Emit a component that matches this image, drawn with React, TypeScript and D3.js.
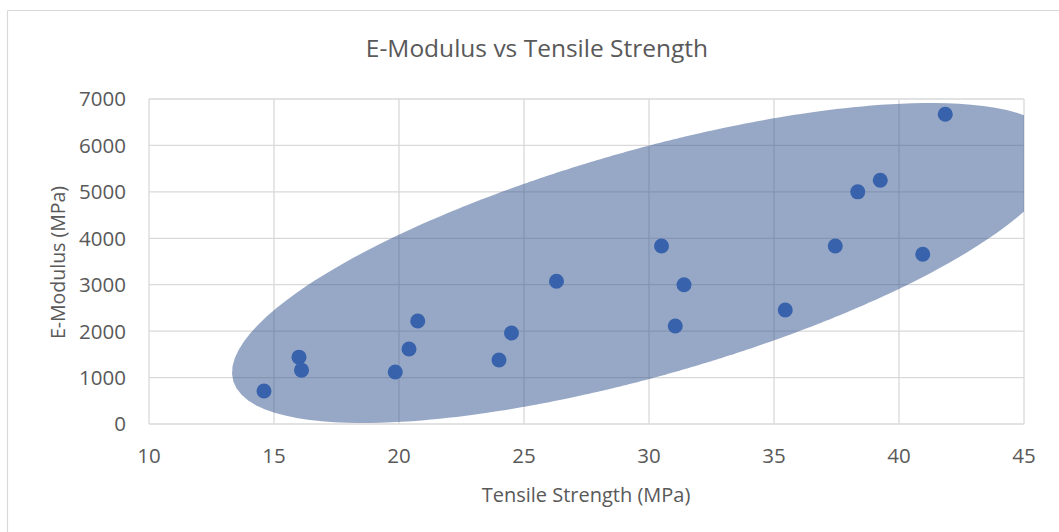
import React from "react";
import * as d3 from "d3";

// Data
const tensileStrength = [14.6, 16.0, 16.1, 19.85, 20.4, 20.75, 24.0, 24.5, 26.3, 30.5, 31.05, 31.4, 35.45, 37.45, 38.35, 39.25, 40.95, 41.85];
const eModulus = [710, 1440, 1160, 1120, 1615, 2220, 1380, 1960, 3075, 3835, 2110, 3000, 2455, 3835, 5000, 5250, 3655, 6670];
const xTicks = [10, 15, 20, 25, 30, 35, 40, 45];
const yTicks = [0, 1000, 2000, 3000, 4000, 5000, 6000, 7000];
// Ellipse annotation (data units): centre, right-most x extent point, top point
const ellipseCenter = [29.9, 3468];
const ellipseRight = [46.48, 5815];
const ellipseTop = [41.24, 6914];

const W = 1059;
const H = 532;
const M = { left: 149, right: 1024, top: 99, bottom: 424 };
const FONT = "'Open Sans', Lato, sans-serif";
const TXT = "#595959";
const GRID = "#d9d9d9";

export default function App() {
  const x = d3.scaleLinear().domain([10, 45]).range([M.left, M.right]);
  const y = d3.scaleLinear().domain([0, 7000]).range([M.bottom, M.top]);

  // Ellipse in pixel space from quadratic form
  const cx = x(ellipseCenter[0]);
  const cy = y(ellipseCenter[1]);
  const dxr = x(ellipseRight[0]) - cx;
  const dxt = x(ellipseTop[0]) - cx;
  const dyt = y(ellipseTop[1]) - cy;
  const D = 1 / (dyt * dyt * (dxr * dxr - dxt * dxt));
  const A = dyt * dyt * D;
  const C = dxr * dxr * D;
  const B = -dxt * dyt * D;
  const angles = d3.range(0, 360, 1).map((a) => (a * Math.PI) / 180);
  const pts: [number, number][] = angles.map((t) => {
    const c = Math.cos(t);
    const s = Math.sin(t);
    const r = 1 / Math.sqrt(A * c * c + 2 * B * c * s + C * s * s);
    return [cx + r * c, cy + r * s];
  });
  const ellipsePath = d3.line().curve(d3.curveLinearClosed)(pts) || "";

  return (
    <svg
      width={W}
      height={H}
      style={{ position: "absolute", left: 0, top: 0, background: "#fff" }}
    >
      <defs>
        <clipPath id="plotClip">
          <rect x={M.left} y={M.top - 20} width={M.right - M.left} height={M.bottom - M.top + 20} />
        </clipPath>
      </defs>
      {/* outer chart border */}
      <line x1={7.5} y1={10.5} x2={W} y2={10.5} stroke={GRID} strokeWidth={1.2} />
      <line x1={7.5} y1={10.5} x2={7.5} y2={H} stroke={GRID} strokeWidth={1.2} />

      {/* title */}
      <text x={537} y={57} textAnchor="middle" fontFamily={FONT} fontSize={24.5} fill={TXT}>
        E-Modulus vs Tensile Strength
      </text>

      {/* gridlines */}
      {yTicks.map((t) => (
        <line key={"gy" + t} x1={M.left} x2={M.right} y1={y(t)} y2={y(t)} stroke={GRID} strokeWidth={1.3} />
      ))}
      {xTicks.map((t) => (
        <line key={"gx" + t} x1={x(t)} x2={x(t)} y1={M.top} y2={M.bottom} stroke={GRID} strokeWidth={1.3} />
      ))}

      {/* ellipse */}
      <path d={ellipsePath} fill="rgb(47,81,141)" fillOpacity={0.5} clipPath="url(#plotClip)" />

      {/* points */}
      {tensileStrength.map((v, i) => (
        <circle key={i} cx={x(v)} cy={y(eModulus[i])} r={7.5} fill="#3862ab" />
      ))}

      {/* y tick labels */}
      {yTicks.map((t) => (
        <text key={"ly" + t} x={126} y={y(t)} dy="0.36em" textAnchor="end" fontFamily={FONT} fontSize={20.5} fill={TXT}>
          {t}
        </text>
      ))}
      {/* x tick labels */}
      {xTicks.map((t) => (
        <text key={"lx" + t} x={x(t)} y={463} textAnchor="middle" fontFamily={FONT} fontSize={20.5} fill={TXT}>
          {t}
        </text>
      ))}

      {/* axis titles */}
      <text x={586} y={502} textAnchor="middle" fontFamily={FONT} fontSize={20} fill={TXT}>
        Tensile Strength (MPa)
      </text>
      <text
        transform={`translate(65,262.5) rotate(-90)`}
        textAnchor="middle"
        fontFamily={FONT}
        fontSize={19.5}
        fill={TXT}
      >
        E-Modulus (MPa)
      </text>
    </svg>
  );
}
